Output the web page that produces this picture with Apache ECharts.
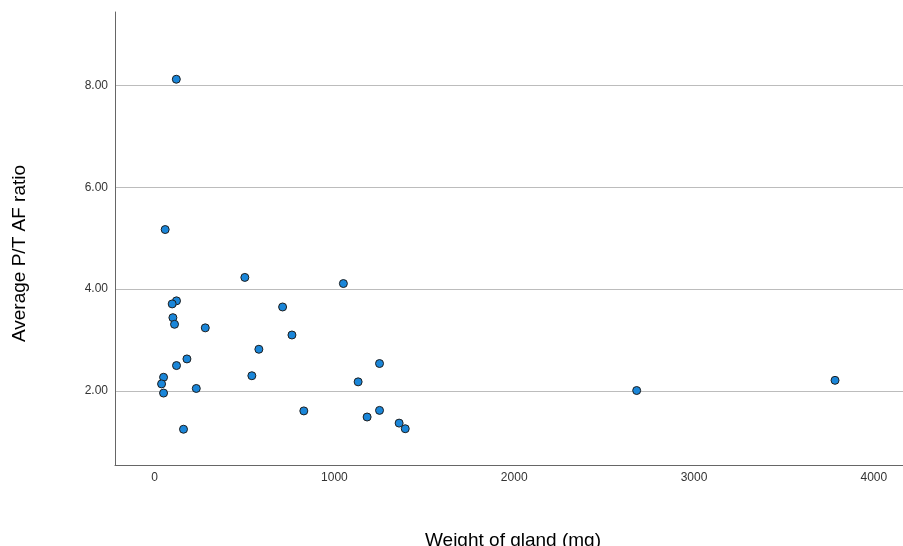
<!DOCTYPE html>
<html>
<head>
<meta charset="utf-8">
<script src="https://cdn.jsdelivr.net/npm/echarts@6/dist/echarts.min.js"></script>
<style>html,body{margin:0;padding:0;background:#fff}#c{width:903px;height:546px}</style>
</head>
<body>
<div id="c"></div>
<script>
const weight = [121, 59, 502, 1050, 122, 98, 102, 111, 282, 712, 580, 180, 122, 541, 50, 39, 50, 232, 161, 764, 1251, 1132, 830, 1182, 1251, 1360, 1394, 2681, 3784];
const ratio  = [8.12, 5.17, 4.23, 4.11, 3.77, 3.71, 3.44, 3.31, 3.24, 3.65, 2.82, 2.63, 2.50, 2.30, 2.27, 2.14, 1.96, 2.05, 1.25, 3.10, 2.54, 2.18, 1.61, 1.49, 1.62, 1.37, 1.26, 2.01, 2.21];
const xTicks = [0, 1000, 2000, 3000, 4000];
const yTicks = [2, 4, 6, 8];
const xTitle = 'Weight of gland (mg)';
const yTitle = 'Average P/T AF ratio';

const points = weight.map((w, i) => [w, ratio[i]]);
const chart = echarts.init(document.getElementById('c'), null, {renderer: 'canvas'});
chart.setOption({
  animation: false,
  backgroundColor: '#fff',
  grid: {left: 115, right: 0, top: 12, bottom: 81, containLabel: false, outerBoundsMode: 'none'},
  xAxis: {
    type: 'value', min: -220, max: 4162,
    name: xTitle, nameLocation: 'middle', nameGap: 66,
    nameTextStyle: {fontFamily: 'Liberation Sans', fontSize: 19, color: '#000', padding: [0, 0, 0, 8]},
    axisLine: {show: true, onZero: false, lineStyle: {color: '#666', width: 1}},
    axisTick: {show: false, customValues: xTicks},
    axisLabel: {customValues: xTicks, fontFamily: 'Liberation Sans', fontSize: 12, color: '#333', margin: 7,
      formatter: v => String(v)},
    splitLine: {show: false}
  },
  yAxis: {
    type: 'value', min: 0.548, max: 9.44,
    name: yTitle, nameLocation: 'middle', nameGap: 86, nameRotate: 90,
    nameTextStyle: {fontFamily: 'Liberation Sans', fontSize: 19, color: '#000', padding: [0, 30, 0, 0]},
    axisLine: {show: true, onZero: false, lineStyle: {color: '#666', width: 1}},
    axisTick: {show: false, customValues: yTicks},
    axisLabel: {customValues: yTicks, fontFamily: 'Liberation Sans', fontSize: 12, color: '#333', margin: 7,
      formatter: v => v.toFixed(2)},
    splitLine: {show: true, lineStyle: {color: '#bcbcbc', width: 1}}
  },
  series: [{
    type: 'scatter',
    data: points,
    symbol: 'circle',
    symbolSize: 8,
    itemStyle: {color: '#1a86d9', borderColor: '#1e1e1e', borderWidth: 1, opacity: 1}
  }]
});
</script>
</body>
</html>
